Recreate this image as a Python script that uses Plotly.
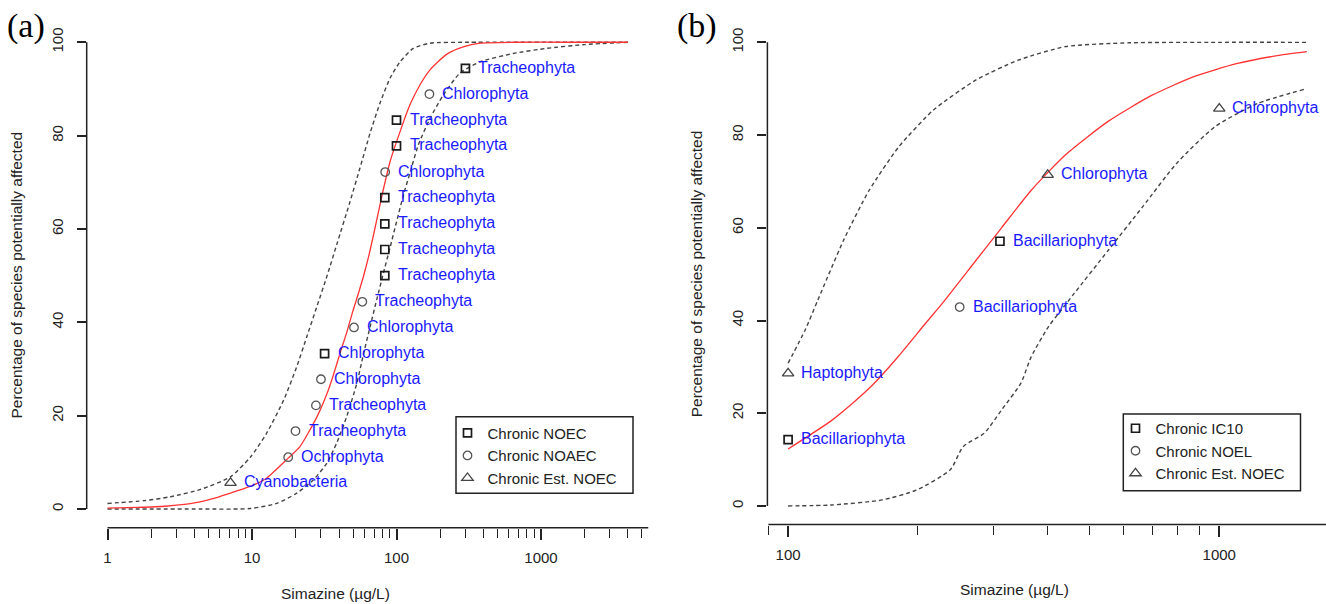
import numpy as np
import plotly.graph_objects as go

W, H = 1326, 604
FONT = "Liberation Sans, Arial, sans-serif"
SERIF = "Liberation Serif, Times New Roman, serif"
AX = "#222222"

# ---------------- Panel (a) data ----------------
a_conc = [7.1, 17.8, 20, 27.7, 30, 31.8, 50.8, 58, 83, 83, 83, 83, 83.5, 100, 100, 169, 300]
a_pct = [5.6, 11.1, 16.7, 22.2, 27.8, 33.3, 38.9, 44.4, 50.0, 55.6, 61.1, 66.7, 72.2, 77.8, 83.3, 88.9, 94.4]
a_type = ["Chronic Est. NOEC", "Chronic NOAEC", "Chronic NOAEC", "Chronic NOAEC", "Chronic NOAEC",
          "Chronic NOEC", "Chronic NOAEC", "Chronic NOAEC", "Chronic NOEC", "Chronic NOEC",
          "Chronic NOEC", "Chronic NOEC", "Chronic NOAEC", "Chronic NOEC", "Chronic NOEC",
          "Chronic NOAEC", "Chronic NOEC"]
a_phylum = ["Cyanobacteria", "Ochrophyta", "Tracheophyta", "Tracheophyta", "Chlorophyta",
            "Chlorophyta", "Chlorophyta", "Tracheophyta", "Tracheophyta", "Tracheophyta",
            "Tracheophyta", "Tracheophyta", "Chlorophyta", "Tracheophyta", "Tracheophyta",
            "Chlorophyta", "Tracheophyta"]
a_types_order = ["Chronic NOEC", "Chronic NOAEC", "Chronic Est. NOEC"]

a_fit_x = [1.0, 1.6, 2.5, 4.0, 5.6, 7.1, 10, 12.6, 17.8, 21.4, 28.2, 33.1, 36.3, 40.7, 45.2, 50.1,
           55.0, 59.6, 64.6, 69.2, 79.4, 90.2, 105.7, 123.9, 145.5, 170.6, 222.3, 289.7, 378.4,
           645.7, 1585, 3981]
a_fit_y = [0.2, 0.35, 0.6, 1.3, 2.4, 3.4, 5.0, 6.6, 10.9, 13.3, 19.8, 24.8, 28.4, 33.4, 37.8, 42.6,
           46.6, 50.3, 54.5, 58.6, 67.2, 74.4, 80.8, 86.6, 90.9, 94.1, 97.4, 99.0, 99.8,
           100, 100, 100]
a_up_x = [1, 1.8, 2.7, 4.4, 7.1, 9.8, 12.6, 16.6, 20.4, 24.0, 28.2, 33.1, 38.9, 47.3, 55.8, 65.6,
          76.9, 90.2, 105.7, 130.6, 170.6, 316, 3981]
a_up_y = [1.2, 1.8, 2.6, 4.2, 6.9, 11.2, 16.2, 23.4, 30.5, 37.0, 43.5, 50.0, 57.0, 65.5, 73.0, 80.5,
          87.0, 92.3, 95.8, 98.7, 99.8, 100, 100]
a_lo_x = [1, 4.4, 9.7, 14.8, 20.4, 26.5, 32.9, 38.5, 45.2, 53.1, 58.9, 65.6, 72.9, 81.1, 90.2,
          100, 112.2, 123.9, 141.6, 170.6, 210.9, 274.8, 378.4, 642.7, 1096, 2000, 3981]
a_lo_y = [0, 0, 0.1, 1.2, 3.4, 6.2, 9.8, 14.1, 19.8, 26.9, 33.0, 39.0, 44.8, 50.5, 56.0,
          61.5, 67.5, 72.0, 78.0, 83.7, 88.7, 93.4, 95.8, 97.6, 98.7, 99.5, 100]

a_major = [1, 10, 100, 1000]
a_minor = [2, 3, 4, 5, 6, 7, 8, 9, 20, 30, 40, 50, 60, 70, 80, 90,
           200, 300, 400, 500, 600, 700, 800, 900, 2000, 3000, 4000, 5000]

# ---------------- Panel (b) data ----------------
b_conc = [100, 100, 250, 310, 400, 1000]
b_pct = [14.3, 28.6, 42.9, 57.1, 71.4, 85.7]
b_type = ["Chronic IC10", "Chronic Est. NOEC", "Chronic NOEL", "Chronic IC10",
          "Chronic Est. NOEC", "Chronic Est. NOEC"]
b_phylum = ["Bacillariophyta", "Haptophyta", "Bacillariophyta", "Bacillariophyta",
            "Chlorophyta", "Chlorophyta"]
b_types_order = ["Chronic IC10", "Chronic NOEL", "Chronic Est. NOEC"]

b_fit_x = [100, 125.6, 141.3, 157.8, 180.7, 207.5, 230.1, 272.9, 312.6, 366.4, 440.6, 553.4,
           695.0, 873.0, 1096, 1374, 1596]
b_fit_y = [12.3, 18.3, 22.2, 26.3, 32.4, 39.2, 44.2, 53.0, 60.0, 68.1, 75.8, 83.0,
           88.5, 92.6, 95.4, 97.2, 98.0]
b_up_x = [100, 109.6, 117.2, 134.6, 154.2, 180.7, 217.3, 272.9, 342.8, 440.6, 619.4, 1000, 1596]
b_up_y = [30.8, 38.0, 44.4, 57.4, 68.1, 77.5, 85.4, 91.9, 96.2, 99.1, 99.9, 100, 100]
b_lo_x = [100, 125.6, 165.2, 198.2, 237.7, 254.7, 285.1, 312.6, 346.7, 366.4, 401.8, 430.5,
          461.3, 553.4, 663.7, 796.2, 977.2, 1227, 1578]
b_lo_y = [0, 0.2, 1.3, 3.4, 7.8, 12.8, 15.7, 20.7, 26.5, 32.2, 38.7, 42.3,
          45.9, 55.2, 64.5, 73.9, 81.8, 86.8, 89.9]

b_major = [100, 1000]
b_minor = [90, 200, 300, 400, 500, 600, 700, 800, 900]

y_ticks = [0, 20, 40, 60, 80, 100]

SYMBOLS = {
    "Chronic NOEC": dict(symbol="square-open", size=8, color="#1a1a1a", line=dict(width=1.7)),
    "Chronic IC10": dict(symbol="square-open", size=8, color="#1a1a1a", line=dict(width=1.7)),
    "Chronic NOAEC": dict(symbol="circle-open", size=8.5, color="#555555", line=dict(width=1.3)),
    "Chronic NOEL": dict(symbol="circle-open", size=8.5, color="#555555", line=dict(width=1.3)),
    "Chronic Est. NOEC": dict(symbol="triangle-up-open", size=10, color="#444444", line=dict(width=1.3)),
}

# layout geometry (pixels)
A_XRANGE = [-0.144, 3.744]
B_XRANGE = [1.952, 3.2475]
Y_RANGE = [-4, 104]
A_XDOM = [86.7 / W, 648.5 / W]
A_YDOM = [1 - 527.7 / H, 1 - 23.6 / H]
B_XDOM = [767.4 / W, 1.0]
B_YDOM = [1 - 524.5 / H, 1 - 23.8 / H]

fig = go.Figure()

dash_pat = "4px,3px"


def add_panel(xa, ya, legend, fx, fy, ux, uy, lx, ly, conc, pct, types, order, phylum):
    for cx, cy in ((ux, uy), (lx, ly)):
        fig.add_trace(go.Scatter(x=cx, y=cy, mode="lines", xaxis=xa, yaxis=ya, showlegend=False,
                                 line=dict(color="#444444", width=1.4, dash=dash_pat,
                                           shape="spline", smoothing=0.6),
                                 hoverinfo="skip"))
    fig.add_trace(go.Scatter(x=fx, y=fy, mode="lines", xaxis=xa, yaxis=ya, showlegend=False,
                             line=dict(color="#ff3333", width=1.3, shape="spline", smoothing=0.6),
                             hoverinfo="skip"))
    for t in order:
        xs = [c for c, tt in zip(conc, types) if tt == t]
        ys = [p for p, tt in zip(pct, types) if tt == t]
        fig.add_trace(go.Scatter(x=xs, y=ys, mode="markers", xaxis=xa, yaxis=ya, name=t,
                                 legend=legend, marker=SYMBOLS[t], cliponaxis=False))
    for c, p, name in zip(conc, pct, phylum):
        fig.add_annotation(x=np.log10(c), y=p, xref=xa, yref=ya, text=name, showarrow=False,
                           xanchor="left", yanchor="middle", xshift=11, yshift=1,
                           font=dict(family=FONT, size=16, color="#1a1aff"))


add_panel("x", "y", "legend", a_fit_x, a_fit_y, a_up_x, a_up_y, a_lo_x, a_lo_y,
          a_conc, a_pct, a_type, a_types_order, a_phylum)
add_panel("x2", "y2", "legend2", b_fit_x, b_fit_y, b_up_x, b_up_y, b_lo_x, b_lo_y,
          b_conc, b_pct, b_type, b_types_order, b_phylum)

tickfont = dict(family=FONT, size=15, color="#222222")


def xaxis_cfg(dom, rng, major, minor, anchor):
    return dict(type="log", domain=dom, range=rng, anchor=anchor, showgrid=False, zeroline=False,
                showline=False, ticks="outside", tickvals=major, ticktext=[str(v) for v in major],
                ticklen=11, tickwidth=1.5, tickcolor=AX, tickfont=tickfont, ticklabelstandoff=5,
                minor=dict(tickvals=minor, ticks="outside", ticklen=9, tickwidth=1.2,
                           tickcolor=AX, showgrid=False))


def yaxis_cfg(dom, anchor):
    return dict(domain=dom, range=Y_RANGE, anchor=anchor, showgrid=False, zeroline=False,
                showline=False, ticks="outside", tickvals=y_ticks, ticklen=9, tickwidth=1.5,
                tickcolor=AX, tickangle=-90, tickfont=tickfont, ticklabelstandoff=8)


legend_common = dict(bgcolor="rgba(0,0,0,0)", borderwidth=0,
                     font=dict(family=FONT, size=15, color="#222222"),
                     xanchor="left", yanchor="top", itemwidth=30, tracegroupgap=0)

fig.update_layout(
    width=W, height=H, margin=dict(l=0, r=0, t=0, b=0),
    paper_bgcolor="white", plot_bgcolor="white", template="none",
    xaxis=xaxis_cfg(A_XDOM, A_XRANGE, a_major, a_minor, "y"),
    yaxis=yaxis_cfg(A_YDOM, "x"),
    xaxis2=xaxis_cfg(B_XDOM, B_XRANGE, b_major, b_minor, "y2"),
    yaxis2=yaxis_cfg(B_YDOM, "x2"),
    legend=dict(x=447.5 / W, y=1 - 416.7 / H, **legend_common),
    legend2=dict(x=1115.5 / W, y=1 - 412 / H, **legend_common),
    showlegend=True,
)

# legend frames
frame = dict(color=AX, width=1.5)
fig.add_shape(type="rect", xref="paper", yref="paper", x0=456 / W, x1=633 / W,
              y0=1 - 493.3 / H, y1=1 - 416.7 / H, line=frame)
fig.add_shape(type="rect", xref="paper", yref="paper", x0=1123.3 / W, x1=1300.5 / W,
              y0=1 - 490.7 / H, y1=1 - 414 / H, line=frame)

# axis lines (R style: spanning the tick range)
line_style = dict(color=AX, width=1.5)
fig.add_shape(type="line", xref="x", yref="y domain", x0=a_major[0], x1=10 ** A_XRANGE[1],
              y0=0, y1=0, line=line_style)
fig.add_shape(type="line", xref="x domain", yref="y", x0=0, x1=0, y0=y_ticks[0], y1=y_ticks[-1],
              line=line_style)
fig.add_shape(type="line", xref="x2", yref="y2 domain", x0=b_minor[0], x1=10 ** B_XRANGE[1],
              y0=0, y1=0, line=line_style)
fig.add_shape(type="line", xref="x2 domain", yref="y2", x0=0, x1=0, y0=y_ticks[0], y1=y_ticks[-1],
              line=line_style)

# axis titles
title_font = dict(family=FONT, size=15.5, color="#222222")
fig.add_annotation(x=335.9 / W, y=1 - 593.3 / H, xref="paper", yref="paper", text="Simazine (µg/L)",
                   showarrow=False, font=title_font, xanchor="center", yanchor="middle")
fig.add_annotation(x=1014.4 / W, y=1 - 589.3 / H, xref="paper", yref="paper", text="Simazine (µg/L)",
                   showarrow=False, font=title_font, xanchor="center", yanchor="middle")
fig.add_annotation(x=16 / W, y=1 - 275.5 / H, xref="paper", yref="paper",
                   text="Percentage of species potentially affected", textangle=-90,
                   showarrow=False, font=title_font, xanchor="center", yanchor="middle")
fig.add_annotation(x=696 / W, y=1 - 274.3 / H, xref="paper", yref="paper",
                   text="Percentage of species potentially affected", textangle=-90,
                   showarrow=False, font=title_font, xanchor="center", yanchor="middle")

# panel letters
fig.add_annotation(x=25.5 / W, y=1 - 25.8 / H, xref="paper", yref="paper", text="(a)",
                   showarrow=False, font=dict(family=SERIF, size=34, color="black"),
                   xanchor="center", yanchor="middle")
fig.add_annotation(x=697.4 / W, y=1 - 25.8 / H, xref="paper", yref="paper", text="(b)",
                   showarrow=False, font=dict(family=SERIF, size=34, color="black"),
                   xanchor="center", yanchor="middle")

fig.write_html("out.html", config={"displayModeBar": False})
